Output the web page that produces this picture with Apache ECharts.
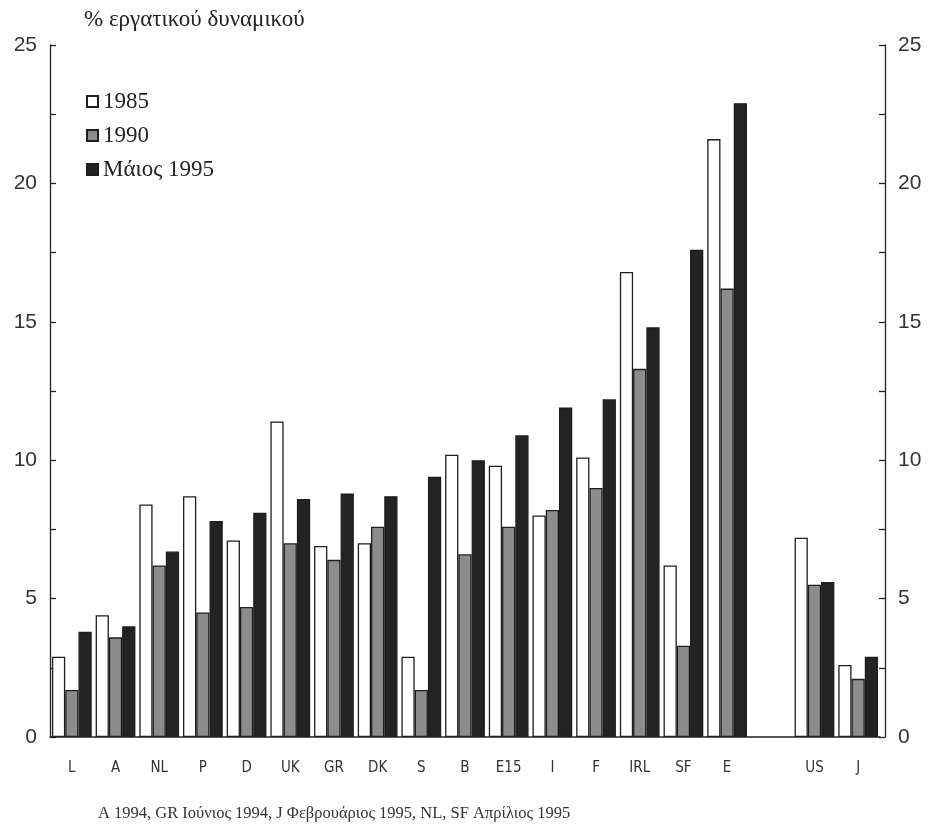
<!DOCTYPE html>
<html>
<head>
<meta charset="utf-8">
<script src="https://cdn.jsdelivr.net/npm/echarts@6/dist/echarts.min.js"></script>
<style>
html,body{margin:0;padding:0;background:#fff;}
#chart{width:938px;height:826px;}
</style>
</head>
<body>
<div id="chart"></div>
<script>
// ---- data ----
const categories = ['L','A','NL','P','D','UK','GR','DK','S','B','E15','I','F','IRL','SF','E','','US','J'];
const seriesNames = ['1985','1990','Μάιος 1995'];
const v1985 = [2.9,4.4,8.4,8.7,7.1,11.4,6.9,7.0,2.9,10.2,9.8,8.0,10.1,16.8,6.2,21.6,null,7.2,2.6];
const v1990 = [1.7,3.6,6.2,4.5,4.7,7.0,6.4,7.6,1.7,6.6,7.6,8.2,9.0,13.3,3.3,16.2,null,5.5,2.1];
const v1995 = [3.8,4.0,6.7,7.8,8.1,8.6,8.8,8.7,9.4,10.0,10.9,11.9,12.2,14.8,17.6,22.9,null,5.6,2.9];
const yTicks = [0,5,10,15,20,25];
const titleText = '% εργατικού δυναμικού';
const footnote = 'A 1994, GR Ιούνιος 1994, J Φεβρουάριος 1995, NL, SF Απρίλιος 1995';

// ---- chart ----
const chart = echarts.init(document.getElementById('chart'), null, {renderer:'canvas'});
const serif = '"Liberation Serif","DejaVu Serif",serif';
const sans = '"Liberation Sans","DejaVu Sans",sans-serif';
const narrow = '"Liberation Sans Narrow","DejaVu Sans Condensed","Liberation Sans",sans-serif';

function yAxisCfg(pos, offset){
  return {
    type:'value', position:pos, offset:offset,
    min:yTicks[0], max:yTicks[yTicks.length-1], interval:5,
    axisLine:{show:true, lineStyle:{color:'#222', width:1.3}},
    axisTick:{show:true, inside:true, length:6, lineStyle:{color:'#222', width:1.3}},
    minorTick:{show:true, splitNumber:2, length:6, lineStyle:{color:'#222', width:1.3}},
    axisLabel:{show:true, margin:13, fontFamily:sans, fontSize:21, color:'#333'},
    splitLine:{show:false}
  };
}

const barStyle = (fill) => ({color:fill, borderColor:'#1e1e1e', borderWidth:1.3});

chart.setOption({
  backgroundColor:'#fff',
  animation:false,
  title:{
    text:titleText, left:79, top:3,
    textStyle:{fontFamily:serif, fontSize:23, fontWeight:'normal', color:'#222'}
  },
  legend:{
    orient:'vertical', left:81, top:85,
    itemWidth:11, itemHeight:11, itemGap:11,
    icon:'rect',
    textStyle:{fontFamily:serif, fontSize:23, color:'#222'},
    data:seriesNames
  },
  grid:{left:50, right:58, top:45, bottom:89},
  xAxis:{
    type:'category', data:categories,
    axisLine:{show:true, lineStyle:{color:'#222', width:1.5}},
    axisTick:{show:false},
    axisLabel:{interval:0, margin:24, fontFamily:narrow, fontSize:15, color:'#333'}
  },
  yAxis:[yAxisCfg('left',0), yAxisCfg('right',5)],
  series:[
    {name:seriesNames[0], type:'bar', data:v1985, barGap:'0%', barCategoryGap:'9%', itemStyle:barStyle('#ffffff')},
    {name:seriesNames[1], type:'bar', data:v1990, itemStyle:barStyle('#8c8c8c')},
    {name:seriesNames[2], type:'bar', data:v1995, itemStyle:barStyle('#232323')}
  ],
  graphic:[{
    type:'text', left:98, top:805,
    style:{text:footnote, fontFamily:serif, fontSize:16.5, fill:'#333'}
  }]
});
</script>
</body>
</html>
